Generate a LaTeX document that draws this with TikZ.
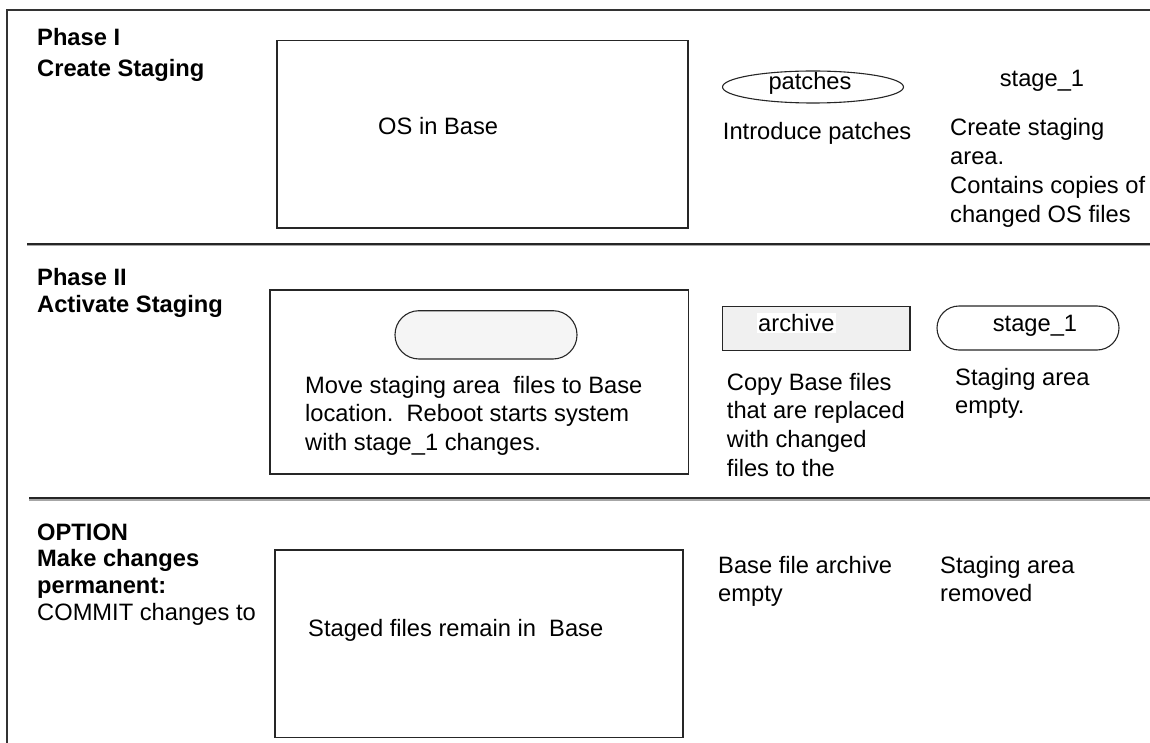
\documentclass[tikz,border=0pt]{standalone}
\usepackage{fontspec}
\setmainfont{Liberation Sans}
\usetikzlibrary{shapes.geometric}
\begin{document}
\begin{tikzpicture}[x=1pt,y=-1pt,
  lines/.style={font=\fontsize{23.7}{#1}\selectfont, inner sep=0pt, anchor=base west, align=left},
  lines/.default=28.5,
  one/.style={font=\fontsize{23.7}{28.5}\selectfont, inner sep=0pt},
  boxx/.style={draw=black!85, line width=1.2pt, minimum width=#1, inner sep=0pt},
  frame/.style={draw=black!80, line width=2.4pt},
  sepline/.style={draw=black!85, line width=1.6pt},
  sepshadow/.style={draw=black!35, line width=1.4pt}]
\useasboundingbox (0,0) rectangle (1150,743);
% outer frame
\coordinate (fbl) at (7,743);
\coordinate (ftl) at (7,10);
\coordinate (ftr) at (1150,10);
\draw[frame] (fbl) -- (ftl) -- (ftr);
% separators
\coordinate (s1a) at (27,244); \coordinate (s1b) at (1150,244);
\coordinate (s1c) at (27,245.8); \coordinate (s1d) at (1150,245.8);
\draw[sepshadow] (s1c) -- (s1d);
\draw[sepline] (s1a) -- (s1b);
\coordinate (s2a) at (29,498); \coordinate (s2b) at (1150,498);
\coordinate (s2c) at (29,499.8); \coordinate (s2d) at (1150,499.8);
\draw[sepshadow] (s2c) -- (s2d);
\draw[sepline] (s2a) -- (s2b);

% Phase I  (base anchor = baseline of last line)
\node[lines=31] (p1) at (37,76.7) {\bfseries Phase I\\\bfseries Create Staging};
\node[boxx=411pt, minimum height=187.3pt] (osbox) at (482.5,134.35) {};
\node[one, anchor=base west] (ostxt) at (378,134.3) {OS in Base};
\node[ellipse, draw=black!85, line width=1.1pt, minimum width=181pt, minimum height=32pt, inner sep=0pt] (patch) at (813,87) {};
\node[one] (patchtxt) at (810,83) {patches};
\node[one, anchor=base] (st1) at (1042,86.7) {stage\_1};
\node[one, anchor=base west] (intro) at (722.7,140) {Introduce patches};
\node[lines=29] (create) at (950,222.5) {Create staging\\area.\\Contains copies of\\changed OS files};

% Phase II
\node[lines=27] (p2) at (37,312) {\bfseries Phase II\\\bfseries Activate Staging};
\node[boxx=418.5pt, minimum height=184pt] (mvbox) at (479.25,382) {};
\node[draw=black!85, fill=black!4, line width=1.1pt, rounded corners=24pt, minimum width=182pt, minimum height=48.3pt, inner sep=0pt] (pill) at (486,334.85) {};
\node[lines=28.5] (move) at (305,450) {Move staging area\ \ files to Base\\location.\ \ Reboot starts system\\with stage\_1 changes.};
\node[draw=black!85, fill=black!6, line width=1.1pt, minimum width=187.3pt, minimum height=44pt, inner sep=0pt] (arch) at (816.35,328.7) {};
\node[one, anchor=base west, fill=white, inner sep=1.5pt] (archtxt) at (756.5,331.7) {archive};
\node[draw=black!85, fill=white, line width=1.1pt, rounded corners=22pt, minimum width=182pt, minimum height=44pt, inner sep=0pt] (st2) at (1028,328) {};
\node[one, anchor=base] (st2txt) at (1035,331.7) {stage\_1};
\node[lines=28.7] (copy) at (726.7,476.1) {Copy Base files\\that are replaced\\with changed\\files to the};
\node[lines=28.3] (empty) at (955,413.3) {Staging area\\empty.};

% Phase III
\node[lines=26.7] (p3) at (37,620.1) {\bfseries OPTION\\\bfseries Make changes\\\bfseries permanent:\\COMMIT changes to};
\node[boxx=408pt, minimum height=187.5pt] (stbox) at (479,643.75) {};
\node[one, anchor=base west] (staged) at (308,636.7) {Staged files remain in\ \ Base};
\node[lines=28.4] (bfa) at (718,601.7) {Base file archive\\empty};
\node[lines=28.4] (sar) at (940,601.7) {Staging area\\removed};
\end{tikzpicture}
\end{document}
